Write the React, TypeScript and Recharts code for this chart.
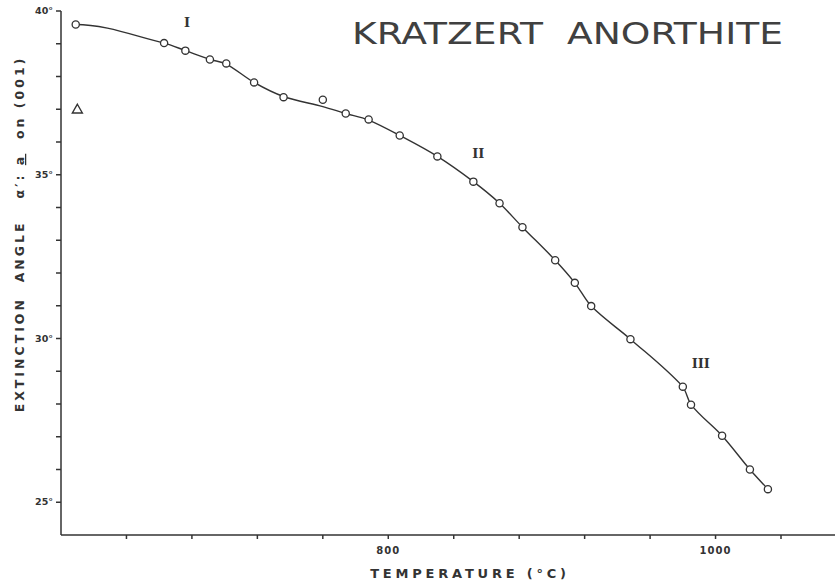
import React from 'react';
import { ComposedChart, Line, Scatter, XAxis, YAxis, ReferenceDot, Customized } from 'recharts';

// Measured points (temperature °C, extinction angle °)
const temperatures = [609, 663, 676, 691, 701, 718, 736, 760, 774, 788, 807, 830, 852, 868, 882, 902, 914, 924, 948, 980, 985, 1004, 1021, 1032];
const angles = [39.59, 39.02, 38.79, 38.52, 38.4, 37.82, 37.37, 37.29, 36.87, 36.69, 36.2, 35.56, 34.79, 34.13, 33.4, 32.39, 31.7, 30.99, 29.98, 28.53, 27.98, 27.03, 26.0, 25.4];

// Hand-drawn fitted curve, read where the line passes at the same temperatures
const curveAngles = [39.59, 39.02, 38.79, 38.52, 38.38, 37.82, 37.39, 37.08, 36.87, 36.67, 36.2, 35.56, 34.79, 34.13, 33.4, 32.39, 31.7, 30.99, 29.98, 28.53, 27.98, 27.03, 26.0, 25.4];

// Separate triangle point
const triangleTemps = [610];
const triangleAngles = [37.0];

// Axis ticks
const xTicks = [640, 680, 720, 760, 800, 840, 880, 920, 960, 1000, 1040];
const xTickLabels: Record<number, string> = { 800: '800', 1000: '1000' };
const yTicks = [25, 26, 27, 28, 29, 30, 31, 32, 33, 34, 35, 36, 37, 38, 39, 40];
const yTickLabels: Record<number, string> = { 25: '25°', 30: '30°', 35: '35°', 40: '40°' };

// Regime annotations
const regimeLabels = ['I', 'II', 'III'];
const regimeTemps = [677, 855, 991];
const regimeAngles = [39.66, 35.67, 29.26];

const pointData = temperatures.map((t, i) => ({ t, a: angles[i] }));
const curveData = temperatures.map((t, i) => ({ t, a: curveAngles[i] }));
const triangleData = triangleTemps.map((t, i) => ({ t, a: triangleAngles[i] }));

const INK = '#333';

// Smooth curve: flat start, central-difference tangents, cubic Hermite segments
const handCurve = (context: any) => {
  let pts: [number, number][] = [];
  const draw = () => {
    const n = pts.length;
    if (!n) return;
    context.moveTo(pts[0][0], pts[0][1]);
    if (n === 1) return;
    const m: number[] = new Array(n);
    m[0] = 0;
    for (let i = 1; i < n - 1; i++) {
      m[i] = (pts[i + 1][1] - pts[i - 1][1]) / (pts[i + 1][0] - pts[i - 1][0]);
    }
    m[n - 1] = (pts[n - 1][1] - pts[n - 2][1]) / (pts[n - 1][0] - pts[n - 2][0]);
    for (let i = 0; i < n - 1; i++) {
      const [x0, y0] = pts[i];
      const [x1, y1] = pts[i + 1];
      const h = (x1 - x0) / 3;
      context.bezierCurveTo(x0 + h, y0 + m[i] * h, x1 - h, y1 - m[i + 1] * h, x1, y1);
    }
  };
  return {
    areaStart() {},
    areaEnd() {},
    lineStart() {
      pts = [];
    },
    lineEnd() {
      draw();
    },
    point(x: number, y: number) {
      pts.push([+x, +y]);
    },
  };
};

const HollowDot = (props: any) => {
  const { cx, cy } = props;
  if (cx == null || cy == null) return null;
  return <circle cx={cx} cy={cy} r={3.6} fill="#fff" stroke={INK} strokeWidth={1.3} />;
};

const TriangleShape = (props: any) => {
  const { cx, cy } = props;
  if (cx == null || cy == null) return null;
  const s = 5;
  return (
    <path
      d={`M${cx},${cy - s} L${cx + s},${cy + s * 0.75} L${cx - s},${cy + s * 0.75} Z`}
      fill="#fff"
      stroke={INK}
      strokeWidth={1.4}
    />
  );
};

const XTick = (props: any) => {
  const { x, y, payload } = props;
  const label = xTickLabels[payload.value];
  if (!label) return null;
  return (
    <text x={x} y={y + 13} textAnchor="middle" fontFamily="DejaVu Sans" fontSize={10} fontWeight="bold" fill={INK} letterSpacing={1}>
      {label}
    </text>
  );
};

const YTick = (props: any) => {
  const { x, y, payload } = props;
  const label = yTickLabels[payload.value];
  if (!label) return null;
  return (
    <text x={x - 1} y={y + 3} textAnchor="end" fontFamily="DejaVu Sans" fontSize={9.5} fontWeight="bold" fill={INK}>
      {label}
    </text>
  );
};

const StaticText = () => (
  <g>
    <text
      x={352}
      y={44}
      fontFamily="DejaVu Sans"
      fontSize={30}
      fill="#404040"
      textLength={431}
      lengthAdjust="spacingAndGlyphs"
      style={{ whiteSpace: 'pre' }}
    >
      KRATZERT  ANORTHITE
    </text>
    <text x={470} y={578} textAnchor="middle" fontFamily="DejaVu Sans" fontSize={13} fontWeight="bold" fill={INK} letterSpacing={3.8}>
      TEMPERATURE (°C)
    </text>
    <text
      x={0}
      y={0}
      transform="translate(24,234) rotate(-90)"
      textAnchor="middle"
      fontFamily="DejaVu Sans"
      fontSize={12.5}
      fontWeight="bold"
      fill={INK}
      letterSpacing={3}
      style={{ whiteSpace: 'pre' }}
    >
      EXTINCTION  ANGLE   α′: <tspan textDecoration="underline">a</tspan>  on (001)
    </text>
  </g>
);

const RomanLabel = (text: string) => (props: any) => {
  const { cx, cy } = props;
  return (
    <text x={cx} y={cy + 5} textAnchor="middle" fontFamily="DejaVu Serif" fontSize={13} fontWeight="bold" fill={INK}>
      {text}
    </text>
  );
};

export default function App() {
  return (
    <div style={{ position: 'absolute', left: 0, top: 0, width: 835, height: 583, background: '#fff' }}>
      <ComposedChart width={835} height={583} margin={{ top: 11, right: 0, left: 0, bottom: 0 }}>
        <XAxis
          type="number"
          dataKey="t"
          domain={[600, 1073]}
          ticks={xTicks}
          interval={0}
          allowDataOverflow
          height={48}
          stroke={INK}
          strokeWidth={1.5}
          tickSize={4}
          tick={<XTick />}
        />
        <YAxis
          type="number"
          dataKey="a"
          domain={[24, 40]}
          ticks={yTicks}
          interval={0}
          allowDataOverflow
          width={61}
          stroke={INK}
          strokeWidth={1.5}
          tickSize={5}
          tick={<YTick />}
        />
        <Line
          data={curveData}
          dataKey="a"
          type={handCurve as any}
          stroke={INK}
          strokeWidth={1.4}
          dot={false}
          activeDot={false}
          isAnimationActive={false}
        />
        <Scatter data={pointData} dataKey="a" shape={<HollowDot />} isAnimationActive={false} />
        <Scatter data={triangleData} dataKey="a" shape={<TriangleShape />} isAnimationActive={false} />
        {regimeLabels.map((lbl, i) => (
          <ReferenceDot key={lbl} x={regimeTemps[i]} y={regimeAngles[i]} r={0} shape={RomanLabel(lbl)} ifOverflow="visible" />
        ))}
        <Customized component={StaticText} />
      </ComposedChart>
    </div>
  );
}
